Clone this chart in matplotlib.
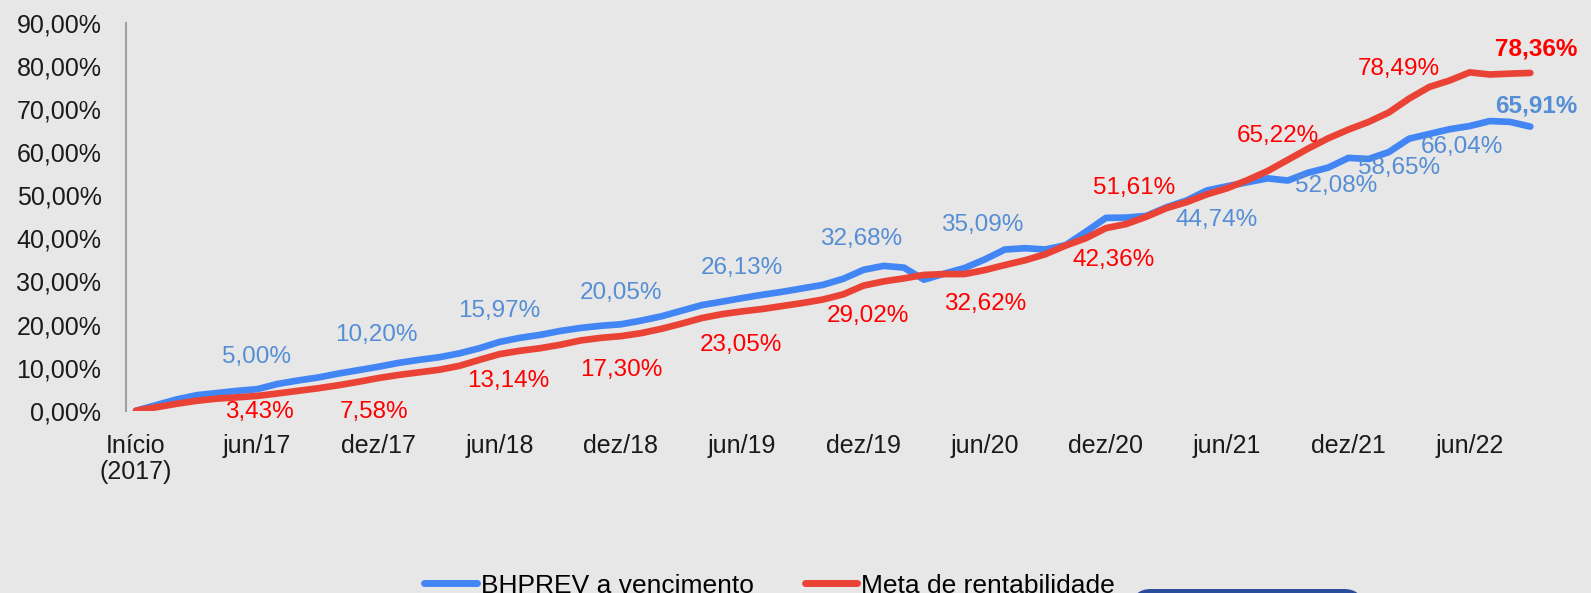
"""
Rentabilidade acumulada: BHPREV a vencimento x meta de rentabilidade.
Output: out.png
"""

import matplotlib.pyplot as plt
from matplotlib.patches import FancyBboxPatch

plt.rcParams["font.family"] = ["Liberation Sans", "DejaVu Sans"]

# monthly cumulative returns (%), dez/16 (Início) .. set/22
bhprev = [
    0.0, 1.3, 2.6, 3.6, 4.1, 4.6, 5.00, 6.2, 7.0, 7.7,
    8.6, 9.4, 10.20, 11.1, 11.8, 12.4, 13.3, 14.5, 15.97, 16.9,
    17.6, 18.5, 19.2, 19.7, 20.05, 20.9, 21.9, 23.2, 24.5, 25.3,
    26.13, 26.9, 27.6, 28.4, 29.2, 30.6, 32.68, 33.6, 33.2, 30.4,
    31.8, 33.1, 35.09, 37.4, 37.7, 37.4, 38.4, 41.5, 44.74, 44.8,
    45.2, 47.2, 48.8, 51.1, 52.08, 53.0, 53.9, 53.4, 55.2, 56.4,
    58.65, 58.4, 60.0, 63.1, 64.2, 65.3, 66.04, 67.2, 67.0, 65.91,
]
meta = [
    0.0, 0.8, 1.6, 2.3, 2.8, 3.1, 3.43, 4.0, 4.6, 5.2,
    5.9, 6.7, 7.58, 8.3, 8.9, 9.5, 10.4, 11.8, 13.14, 13.9,
    14.5, 15.3, 16.3, 16.9, 17.30, 18.0, 19.0, 20.2, 21.5, 22.4,
    23.05, 23.6, 24.3, 25.0, 25.8, 27.0, 29.02, 30.0, 30.7, 31.5,
    31.7, 31.7, 32.62, 33.8, 34.9, 36.3, 38.3, 40.0, 42.36, 43.3,
    45.0, 47.0, 48.4, 50.2, 51.61, 53.5, 55.6, 58.2, 60.8, 63.2,
    65.22, 67.0, 69.2, 72.4, 75.1, 76.6, 78.49, 78.0, 78.2, 78.36,
]

tick_labels = ["Início\n(2017)", "jun/17", "dez/17", "jun/18", "dez/18", "jun/19",
               "dez/19", "jun/20", "dez/20", "jun/21", "dez/21", "jun/22"]

# which points get a value label
label_idx = [6, 12, 18, 24, 30, 36, 42, 48, 54, 60, 66, 69]

# where each value label sits (month, %)
blue_label_pos = [(5.95, 12.4), (11.9, 17.5), (18.0, 23.2), (24.0, 27.4), (29.96, 33.1),
                  (35.9, 39.9), (41.9, 43.2), (53.5, 44.2), (59.4, 52.2), (62.5, 56.4),
                  (65.6, 61.1), (69.3, 70.6)]
red_label_pos = [(6.1, -0.4), (11.8, -0.4), (18.4, 6.9), (24.0, 9.5), (29.96, 15.2),
                 (36.2, 22.0), (42.0, 24.8), (48.4, 35.0), (49.4, 51.7), (56.5, 63.7),
                 (62.5, 79.3), (69.3, 84.0)]

BG = "#e7e7e7"
BLUE_LINE = "#4285f4"
RED_LINE = "#ea4335"
BLUE_TXT = "#558ed5"
RED_TXT = "#ff0000"


def fmt(v):
    return f"{v:.2f}".replace(".", ",") + "%"


def main():
    fig = plt.figure(figsize=(15.91, 5.93), dpi=100, facecolor=BG)
    ax = fig.add_axes([0.0795, 0.3074, 0.8887, 0.6542])
    ax.set_facecolor(BG)

    x = list(range(len(bhprev)))
    ax.plot(x, bhprev, color=BLUE_LINE, lw=4.8, solid_capstyle="round",
            solid_joinstyle="round", label="BHPREV a vencimento", zorder=3)
    ax.plot(x, meta, color=RED_LINE, lw=4.8, solid_capstyle="round",
            solid_joinstyle="round", label="Meta de rentabilidade", zorder=4)

    last = len(label_idx) - 1
    for k, i in enumerate(label_idx):
        bx, by = blue_label_pos[k]
        rx, ry = red_label_pos[k]
        weight = "bold" if k == last else "normal"
        ax.text(bx, by, fmt(bhprev[i]), color=BLUE_TXT, fontsize=17.5,
                ha="center", va="center", fontweight=weight, zorder=5)
        ax.text(rx, ry, fmt(meta[i]), color=RED_TXT, fontsize=17.5,
                ha="center", va="center", fontweight=weight, zorder=5)

    ax.set_xlim(-0.47, 69.5)
    ax.set_ylim(0, 90)
    ax.set_yticks(range(0, 91, 10))
    ax.set_yticklabels([fmt(v) for v in range(0, 91, 10)])
    ax.set_xticks(range(0, 67, 6))
    ax.set_xticklabels(tick_labels, linespacing=1.15)
    ax.tick_params(axis="y", length=0, pad=18, labelsize=18, colors="#1a1a1a")
    ax.tick_params(axis="x", length=0, pad=16.5, labelsize=18, colors="#1a1a1a")

    for side in ["top", "right", "bottom"]:
        ax.spines[side].set_visible(False)
    ax.spines["left"].set_color("#a0a0a0")
    ax.spines["left"].set_linewidth(1.5)
    ax.spines["left"].set_zorder(1)

    leg = fig.legend(loc="center left", bbox_to_anchor=(0.2665, 0.0125), ncol=2,
                     frameon=False, fontsize=19, handlelength=2.0, handletextpad=0.15,
                     columnspacing=1.93, borderpad=0, borderaxespad=0)
    for line in leg.get_lines():
        line.set_linewidth(5)
        line.set_solid_capstyle("round")

    # dark blue box cut by the bottom edge
    box = FancyBboxPatch((1132 / 1591, -0.05), (1363 - 1132) / 1591, 0.05 + 4 / 593,
                         boxstyle="round,pad=0,rounding_size=0.012",
                         transform=fig.transFigure, facecolor="#2b4c9b",
                         edgecolor="none", mutation_aspect=1591 / 593)
    fig.patches.append(box)

    fig.savefig("out.png", dpi=100, facecolor=BG)
    plt.close(fig)


if __name__ == "__main__":
    main()
